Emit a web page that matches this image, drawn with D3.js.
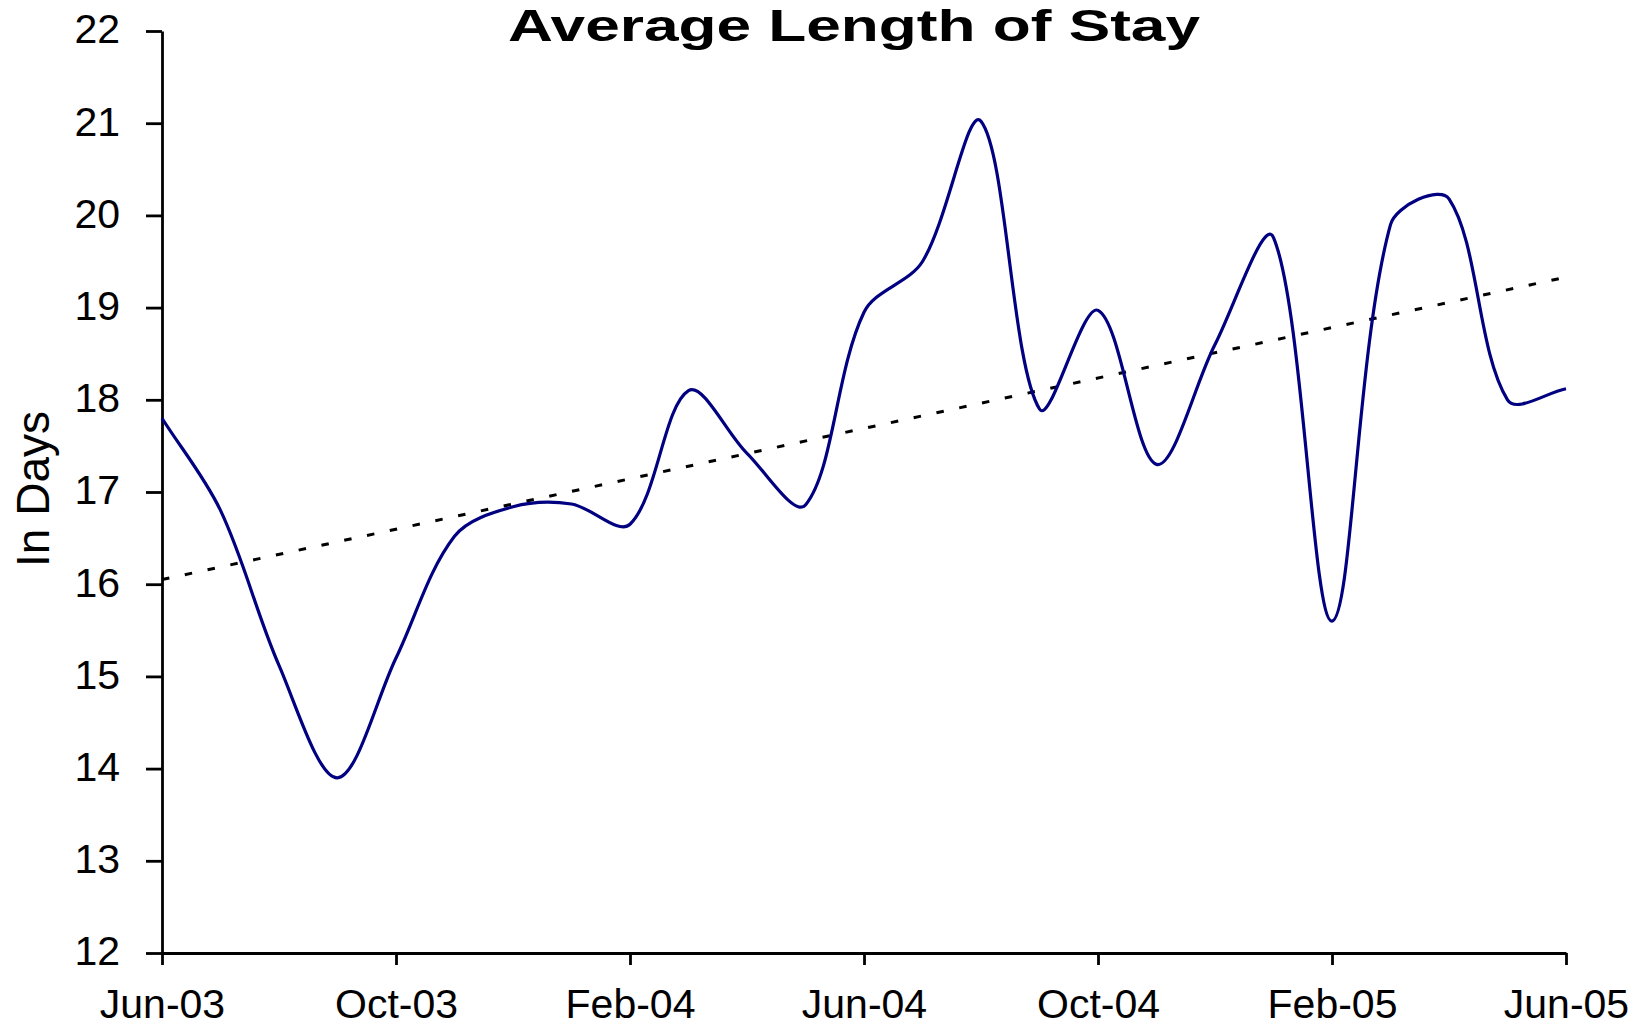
<!DOCTYPE html>
<html>
<head>
<meta charset="utf-8">
<script src="https://cdn.jsdelivr.net/npm/d3@7"></script>
<style>
  body { margin: 0; background: #fff; }
  text { font-family: 'Liberation Sans', Arial, sans-serif; fill: #000; }
</style>
</head>
<body>
<div id="chart"></div>
<script>
// monthly average length of stay
const months = [
  'Jun-03', 'Jul-03', 'Aug-03', 'Sep-03', 'Oct-03', 'Nov-03', 'Dec-03',
  'Jan-04', 'Feb-04', 'Mar-04', 'Apr-04', 'May-04', 'Jun-04', 'Jul-04',
  'Aug-04', 'Sep-04', 'Oct-04', 'Nov-04', 'Dec-04', 'Jan-05', 'Feb-05',
  'Mar-05', 'Apr-05', 'May-05', 'Jun-05',
];
const stayDays = [
  17.8, 16.8, 15.12, 13.9, 15.2, 16.52, 16.84,
  16.87, 16.65, 18.1, 17.42, 16.86, 18.95, 19.5,
  21.02, 17.9, 18.97, 17.3, 18.6, 19.76, 15.6,
  19.9, 20.18, 18.0, 18.12,
];
// linear trendline, value at first and last month
const trendEnds = [16.05, 19.33];
const yTicks = [12, 13, 14, 15, 16, 17, 18, 19, 20, 21, 22];
const xTicks = ['Jun-03', 'Oct-03', 'Feb-04', 'Jun-04', 'Oct-04', 'Feb-05', 'Jun-05'];

const width = 1637,
  height = 1028;
const margin = { top: 31, right: 71, bottom: 75, left: 162 };

const svg = d3
  .select('#chart')
  .append('svg')
  .attr('width', width)
  .attr('height', height);

const x = d3
  .scalePoint()
  .domain(months)
  .range([margin.left, width - margin.right]);

const y = d3
  .scaleLinear()
  .domain([12, 22])
  .range([height - margin.bottom, margin.top]);

// axes
const xAxis = svg
  .append('g')
  .attr('transform', 'translate(0,' + (height - margin.bottom) + ')')
  .call(
    d3.axisBottom(x).tickValues(xTicks).tickSize(12).tickSizeOuter(0).tickPadding(24)
  );

const yAxis = svg
  .append('g')
  .attr('transform', 'translate(' + margin.left + ',0)')
  .call(
    d3.axisLeft(y).tickValues(yTicks).tickSize(16).tickSizeOuter(0).tickPadding(26)
  );

[xAxis, yAxis].forEach((g) => {
  g.select('.domain').attr('stroke', '#000').attr('stroke-width', 2.8);
  g.selectAll('.tick line').attr('stroke', '#000').attr('stroke-width', 2.8);
  g.selectAll('.tick text')
    .attr('font-size', 41)
    .attr('font-family', "'Liberation Sans', Arial, sans-serif")
    .attr('fill', '#000');
});
yAxis.selectAll('.tick text').attr('dy', '0.29em');

// dotted trendline
const trendLine = d3
  .line()
  .x((d, i) => x(i === 0 ? months[0] : months[months.length - 1]))
  .y((d) => y(d));

svg
  .append('path')
  .datum(trendEnds)
  .attr('d', trendLine)
  .attr('fill', 'none')
  .attr('stroke', '#000')
  .attr('stroke-width', 3)
  .attr('stroke-dasharray', '7.5,15.8');

// spreadsheet-style smoothing: catmull-rom tangents, handle length
// scaled by the neighbouring segment lengths (keeps short steps flat)
function smoothPath(pts) {
  const p = d3.path();
  p.moveTo(pts[0][0], pts[0][1]);
  for (let i = 0; i < pts.length - 1; i++) {
    const p0 = pts[Math.max(i - 1, 0)],
      p1 = pts[i],
      p2 = pts[i + 1],
      p3 = pts[Math.min(i + 2, pts.length - 1)];
    const d01 = Math.hypot(p1[0] - p0[0], p1[1] - p0[1]),
      d12 = Math.hypot(p2[0] - p1[0], p2[1] - p1[1]),
      d23 = Math.hypot(p3[0] - p2[0], p3[1] - p2[1]);
    const f1 = d12 / (3 * (d01 + d12)),
      f2 = d12 / (3 * (d12 + d23));
    p.bezierCurveTo(
      p1[0] + (p2[0] - p0[0]) * f1,
      p1[1] + (p2[1] - p0[1]) * f1,
      p2[0] - (p3[0] - p1[0]) * f2,
      p2[1] - (p3[1] - p1[1]) * f2,
      p2[0],
      p2[1]
    );
  }
  return p.toString();
}

const linePoints = stayDays.map((d, i) => [x(months[i]), y(d)]);

svg
  .append('path')
  .attr('d', smoothPath(linePoints))
  .attr('fill', 'none')
  .attr('stroke', '#000080')
  .attr('stroke-width', 3.2)
  .attr('stroke-linejoin', 'round');

// titles
svg
  .append('text')
  .attr('x', 854)
  .attr('y', 41)
  .attr('text-anchor', 'middle')
  .attr('font-size', 45)
  .attr('font-weight', 'bold')
  .attr('textLength', 692)
  .attr('lengthAdjust', 'spacingAndGlyphs')
  .text('Average Length of Stay');

svg
  .append('text')
  .attr('transform', 'translate(49,489) rotate(-90)')
  .attr('text-anchor', 'middle')
  .attr('font-size', 46)
  .text('In Days');
</script>
</body>
</html>
